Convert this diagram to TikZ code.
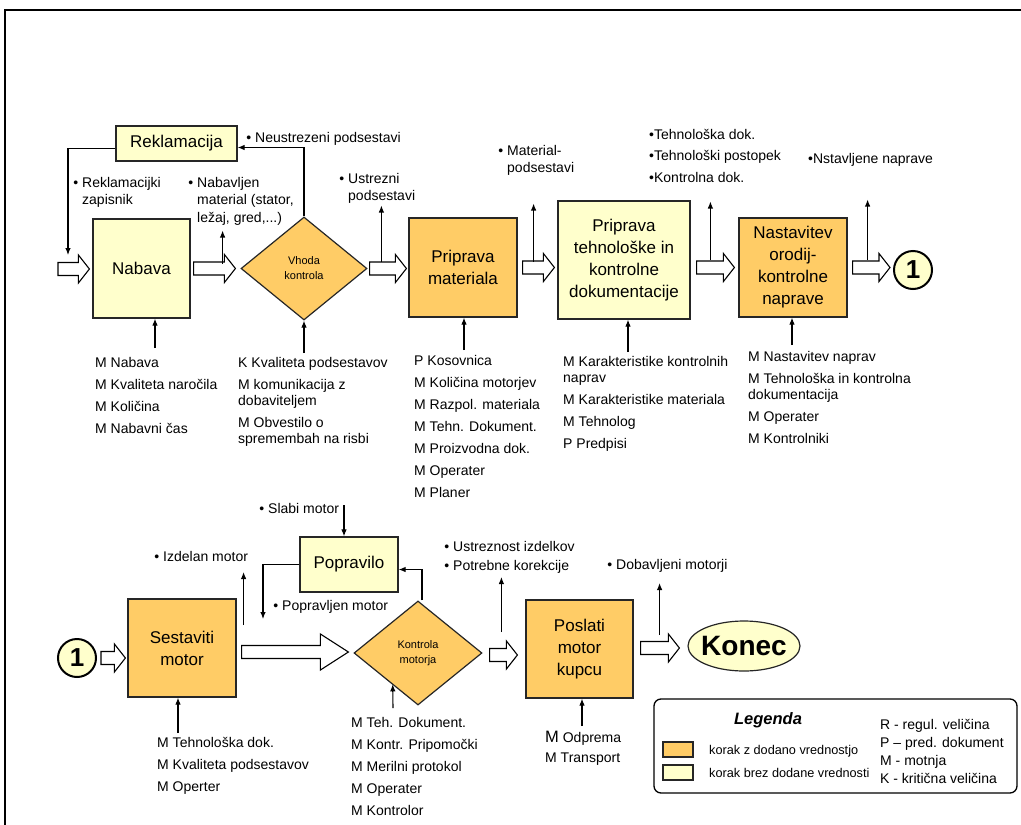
\documentclass[tikz,border=0pt]{standalone}
\usepackage{fontspec}
\setmainfont{Liberation Sans}
\usepackage{tikz}
\usetikzlibrary{positioning}
\usetikzlibrary{calc,shapes.geometric,arrows.meta}

\definecolor{oranzna}{HTML}{FFCC66}
\definecolor{rumena}{HTML}{FFFFCC}

\newcommand{\tocka}{\llap{\textbullet\hspace{4pt}}}

% hollow block arrow: [head length/head half-width]{from}{to}
\newcommand{\flowarrow}[3][11/14]{%
	\foreach \hl/\hw in {#1}{%
		\draw[blok] let \p1=#2, \p2=#3 in
			(\x1,\y1+6.5pt) -- (\x2-\hl pt,\y1+6.5pt) -- (\x2-\hl pt,\y1+\hw pt)
			-- (\x2,\y1) -- (\x2-\hl pt,\y1-\hw pt) -- (\x2-\hl pt,\y1-6.5pt)
			-- (\x1,\y1-6.5pt) -- cycle;}}

\tikzset{
	korak/.style={draw=black!85, line width=1.2pt, align=center, inner sep=2pt,
		font=\fontsize{17}{22}\selectfont},
	dodana/.style={korak, fill=oranzna},
	brezdod/.style={korak, fill=rumena},
	odlocitev/.style={diamond, draw=black!85, line width=1.2pt, fill=oranzna,
		inner sep=0pt, align=center, font=\fontsize{11}{15}\selectfont},
	sidro/.style={circle, draw, line width=2pt, fill=rumena, minimum size=38pt,
		inner sep=0pt, font=\bfseries\fontsize{26}{26}\selectfont},
	blok/.style={draw, line width=1.1pt, fill=white, line join=miter},
	puscica/.style={line width=1.1pt, -{Latex[length=7pt,width=5.5pt]}},
	oznaka/.style={anchor=north west, inner sep=0pt, align=left,
		font=\fontsize{14}{17.5}\selectfont},
	seznam/.style={anchor=north west, inner sep=0pt, align=left,
		font=\fontsize{14}{16}\selectfont},
}

\begin{document}
\begin{tikzpicture}[x=1pt, y=-1pt]

	% ------------------------------------------------
	% Size of the slide
	\useasboundingbox (0,0) rectangle (1021,825);
	\draw[line width=2.5pt] (1021,10) -- (5,10) -- (5,825);

	% ------------------------------------------------
	% First row of steps
	\node[brezdod, minimum width=121pt, minimum height=35pt] (rekl) at (176.5,143.5) {Reklamacija};
	\node[brezdod, minimum width=97pt, minimum height=99pt] (nab) at (141.5,268.5) {Nabava};
	\node[odlocitev, minimum width=126pt, minimum height=103pt] (vhod) at (304,268.5) {Vhoda\\kontrola};
	\node[dodana, minimum width=108pt, minimum height=99pt] (mat) at (463,267.5) {Priprava\\materiala};
	\node[brezdod, minimum width=132pt, minimum height=118pt] (teh) at (624,260) {Priprava\\tehnološke in\\kontrolne\\dokumentacije};
	\node[dodana, minimum width=108pt, minimum height=99pt] (nast) at (793,267.5) {Nastavitev\\orodij-\\kontrolne\\naprave};
	\node[sidro] (ena) at (913,270) {1};

	% ----------------
	% Outputs
	\node[oznaka] (neustr) at (255,132) {\tocka Neustrezeni podsestavi};
	\node[oznaka] (rekzap) at (82,177) {\tocka Reklamacijki\\zapisnik};
	\node[oznaka] (nabmat) at (197,177) {\tocka Nabavljen\\material (stator,\\ležaj, gred,...)};
	\node[oznaka] (ustr) at (348,173) {\tocka Ustrezni\\podsestavi};
	\node[oznaka] (matpod) at (507,145) {\tocka Material-\\podsestavi};
	\node[oznaka] (tehdok) at (649,129) {•Tehnološka dok.\\[4pt]•Tehnološki postopek\\[4pt]•Kontrolna dok.};
	\node[oznaka] (nastnap) at (808,153) {•Nstavljene naprave};

	% ----------------
	% Inputs
	\node[seznam] (vNab) at (95,357) {M Nabava\\[6pt]M Kvaliteta naročila\\[6pt]M Količina\\[6pt]M Nabavni čas};
	\node[seznam] (vVhod) at (238,357) {K Kvaliteta podsestavov\\[6pt]M komunikacija z\\dobaviteljem\\[6pt]M Obvestilo o\\spremembah na risbi};
	\node[seznam] (vMat) at (414,355) {P Kosovnica\\[6pt]M Količina motorjev\\[6pt]M Razpol. materiala\\[6pt]M Tehn. Dokument.\\[6pt]M Proizvodna dok.\\[6pt]M Operater\\[6pt]M Planer};
	\node[seznam] (vTeh) at (563,356) {M Karakteristike kontrolnih\\naprav\\[6pt]M Karakteristike materiala\\[6pt]M Tehnolog\\[6pt]P Predpisi};
	\node[seznam] (vNast) at (748,351) {M Nastavitev naprav\\[6pt]M Tehnološka in kontrolna\\dokumentacija\\[6pt]M Operater\\[6pt]M Kontrolniki};

	% ------------------------------------------------
	% Second row of steps
	\node[sidro] (ena2) at (77,658) {1};
	\node[dodana, minimum width=108pt, minimum height=98pt] (ses) at (182,648) {Sestaviti\\motor};
	\node[brezdod, minimum width=98pt, minimum height=55pt] (popr) at (349,564.5) {Popravilo};
	\node[odlocitev, minimum width=128pt, minimum height=104pt] (kon) at (418,653) {Kontrola\\motorja};
	\node[dodana, minimum width=107pt, minimum height=98pt] (pos) at (579.5,649) {Poslati\\motor\\kupcu};
	\node[ellipse, draw=black!85, line width=1.2pt, fill=rumena, inner sep=0pt,
		minimum width=112pt, minimum height=50pt,
		font=\bfseries\fontsize{28}{28}\selectfont] (konec) at (744,646) {\makebox[60pt]{Konec}};

	% ----------------
	% Outputs
	\node[oznaka] (slabi) at (268,503) {\tocka Slabi motor};
	\node[oznaka] (izdel) at (163,551) {\tocka Izdelan motor};
	\node[oznaka] (popravljen) at (282,600) {\tocka Popravljen motor};
	\node[oznaka] (ustrizd) at (453,541) {\tocka Ustreznost izdelkov\\[2pt]\tocka Potrebne korekcije};
	\node[oznaka] (dobav) at (616,559) {\tocka Dobavljeni motorji};

	% ----------------
	% Inputs
	\node[seznam] (vSes) at (157,737) {M Tehnološka dok.\\[6pt]M Kvaliteta podsestavov\\[6pt]M Operter};
	\node[seznam] (vKon) at (351,717) {M Teh. Dokument.\\[6pt]M Kontr. Pripomočki\\[6pt]M Merilni protokol\\[6pt]M Operater\\[6pt]M Kontrolor};
	\node[seznam] (vPos) at (545,731) {{\fontsize{16.5}{16}\selectfont M} Odprema\\[4pt]M Transport};

	% ------------------------------------------------
	% Legend
	\node[draw, line width=1.3pt, rounded corners=7pt, minimum width=363pt, minimum height=94pt] (leg) at (835.5,746) {};
	\node[anchor=north, inner sep=0pt, font=\bfseries\itshape\fontsize{16.5}{18}\selectfont] (legnaslov) at (768,712) {Legenda};
	\node[dodana, inner sep=0pt, minimum width=30pt, minimum height=15pt] (legdod) at (678,749.5) {};
	\node[brezdod, inner sep=0pt, minimum width=30pt, minimum height=15pt] (legbrez) at (678,772.5) {};
	\node[oznaka, font=\fontsize{12.7}{15}\selectfont] (legdodt) at (709,745) {korak z dodano vrednostjo};
	\node[oznaka, font=\fontsize{12.7}{15}\selectfont] (legbrezt) at (709,768) {korak brez dodane vrednosti};
	\node[oznaka, font=\fontsize{14}{18}\selectfont] (okrajsave) at (880,719) {R - regul. veličina\\P – pred. dokument\\M - motnja\\K - kritična veličina};

	% ------------------------------------------------
	% Main flow
	\coordinate (vstop) at (58,269);
	\flowarrow{(vstop)}{($(nab.west)+(-3,0)$)}
	\flowarrow{($(nab.east)+(3,0)$)}{($(vhod.west)+(-5,0)$)}
	\flowarrow{($(vhod.east)+(2,0)$)}{($(mat.west)+(-2,0)$)}
	\flowarrow{($(mat.east)+(5,0)$)}{($(teh.west)+(-3,0)$)}
	\flowarrow{($(teh.east |- nast.west)+(6,0)$)}{($(nast.west)+(-4,0)$)}
	\flowarrow{($(nast.east)+(5,0)$)}{($(ena.west)+(-3,0)$)}

	\flowarrow{($(ena2.east)+(4,0)$)}{($(ses.west)+(-2,0)$)}
	\flowarrow[28/18]{($(ses.east)+(5,4)$)}{($(kon.west)+(-5,0)$)}
	\flowarrow{($(kon.east)+(7,2)$)}{($(pos.west)+(-8,0)$)}
	\flowarrow{($(pos.east)+(7,-1)$)}{($(konec.west)+(-8,0)$)}

	% ----------------
	% Feedback loops
	\coordinate (rekZ) at (68,255);
	\draw[puscica] (vhod.north) |- ([yshift=-4pt]rekl.east);
	\draw[puscica] ([yshift=-5pt]rekl.west) -| (rekZ);

	\coordinate (popZ) at (263,619);
	\coordinate (slabiZ) at (344,505);
	\draw[puscica] (popr.west) -| (popZ);
	\draw[puscica] ([xshift=4pt]kon.north) |- ([yshift=-5pt]popr.east);
	\draw[puscica] (slabiZ) -- (slabiZ |- popr.north);

	% ----------------
	% Output arrows
	\path (nab.east)  +(32,-5)  coordinate (iz1a);
	\path (iz1a)      +(0,-33)  coordinate (iz1b);
	\path (mat.west)  +(-27,-6) coordinate (iz2a);
	\path (iz2a)      +(0,-56)  coordinate (iz2b);
	\path (mat.east)  +(16,-6)  coordinate (iz3a);
	\path (iz3a)      +(0,-58)  coordinate (iz3b);
	\path (nast.west) +(-28,-8) coordinate (iz4a);
	\path (iz4a)      +(0,-58)  coordinate (iz4b);
	\path (nast.east) +(20,-8)  coordinate (iz5a);
	\path (iz5a)      +(0,-60)  coordinate (iz5b);
	\path (ses.east)  +(7,-23)  coordinate (iz6a);
	\path (iz6a)      +(0,-53)  coordinate (iz6b);
	\path (pos.west)  +(-24,-17) coordinate (iz7a);
	\path (iz7a)      +(0,-55)  coordinate (iz7b);
	\path (pos.east)  +(26,-14) coordinate (iz8a);
	\path (iz8a)      +(0,-52)  coordinate (iz8b);

	\draw[puscica] (iz1a) -- (iz1b);
	\draw[puscica] (iz2a) -- (iz2b);
	\draw[puscica] (iz3a) -- (iz3b);
	\draw[puscica] (iz4a) -- (iz4b);
	\draw[puscica] (iz5a) -- (iz5b);
	\draw[puscica] (iz6a) -- (iz6b);
	\draw[puscica] (iz7a) -- (iz7b);
	\draw[puscica] (iz8a) -- (iz8b);

	% ----------------
	% Input arrows
	\coordinate (vh1) at (155,348);
	\coordinate (vh2) at (304,353);
	\coordinate (vh3) at (464,350);
	\coordinate (vh4) at (628,352);
	\coordinate (vh5) at (792,345);
	\coordinate (vh6) at (178,733);
	\coordinate (vh7) at (393,708);
	\coordinate (vh8) at (582,726);

	\draw[puscica] (vh1) -- (vh1 |- nab.south);
	\draw[puscica] (vh2) -- (vhod.south);
	\draw[puscica] (vh3) -- (vh3 |- mat.south);
	\draw[puscica] (vh4) -- (vh4 |- teh.south);
	\draw[puscica] (vh5) -- (vh5 |- nast.south);
	\draw[puscica] (vh6) -- (vh6 |- ses.south);
	\draw[puscica] (vh7) -- ($(kon.south west)+(7,5)$);
	\draw[puscica] (vh8) -- (vh8 |- pos.south);

\end{tikzpicture}
\end{document}
